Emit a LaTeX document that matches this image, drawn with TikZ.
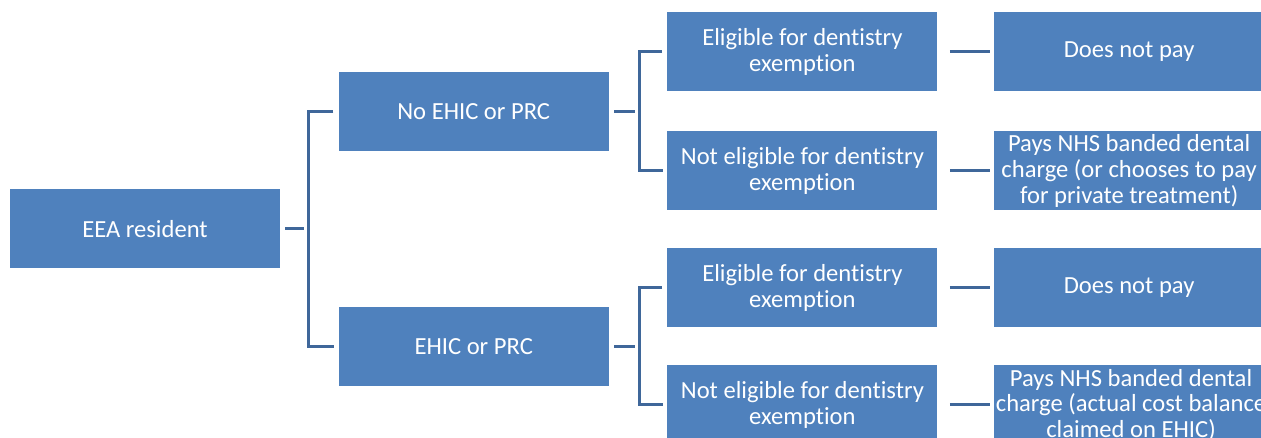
\documentclass[tikz,border=0pt]{standalone}
\usepackage{fontspec}
\setmainfont[Ligatures=NoCommon]{Carlito}
\usepackage{xcolor}
\definecolor{boxBlue}{HTML}{4F81BD}
\definecolor{linkBlue}{HTML}{3F679A}
\usepackage{tikz}
\usetikzlibrary{positioning,calc}
\tikzset{%
  stepBox/.style={%
    rectangle,
    draw=none,
    fill=boxBlue,
    text=white,
    minimum width=5.4cm,
    minimum height=1.58cm,
    inner sep=1pt,
    align=center,
    font=\fontsize{14pt}{14.6pt}\selectfont
  },
  linkLine/.style={%
    line width=1.7pt,
    color=linkBlue,
    shorten <=0.1cm,
    shorten >=0.08cm
  }
}
\begin{document}
\begin{tikzpicture}
  \clip (-2.9,-4.18) rectangle (22.32,4.58);
  \node[stepBox] (eea) {EEA resident};
  \node[stepBox, right=1.16cm of eea, yshift=2.34cm] (noCard) {No EHIC or PRC};
  \node[stepBox, right=1.16cm of eea, yshift=-2.36cm] (card) {EHIC or PRC};

  \node[stepBox, right=1.16cm of noCard, yshift=1.2cm] (eligNo) {Eligible for dentistry\\exemption};
  \node[stepBox, right=1.16cm of noCard, yshift=-1.18cm] (notEligNo) {Not eligible for dentistry\\exemption};
  \node[stepBox, right=1.16cm of card, yshift=1.18cm] (eligYes) {Eligible for dentistry\\exemption};
  \node[stepBox, right=1.16cm of card, yshift=-1.16cm] (notEligYes) {Not eligible for dentistry\\exemption};

  \node[stepBox, right=1.12cm of eligNo] (freeNo) {Does not pay};
  \node[stepBox, right=1.12cm of notEligNo] (chargeNo) {Pays NHS banded dental\\charge (or chooses to pay\\for private treatment)};
  \node[stepBox, right=1.12cm of eligYes] (freeYes) {Does not pay};
  \node[stepBox, right=1.12cm of notEligYes] (chargeYes) {Pays NHS banded dental\\charge (actual cost balance\\claimed on EHIC)};

  % forks
  \coordinate (forkEea) at ($(eea.east)+(0.56,0)$);
  \coordinate (forkNo) at ($(noCard.east)+(0.6,0)$);
  \coordinate (forkYes) at ($(card.east)+(0.6,0)$);

  \draw[linkLine] (eea.east) -- (forkEea);
  \draw[linkLine] (noCard.west) -| (forkEea) |- (card.west);
  \draw[linkLine] (noCard.east) -- (forkNo);
  \draw[linkLine] (eligNo.west) -| (forkNo) |- (notEligNo.west);
  \draw[linkLine] (card.east) -- (forkYes);
  \draw[linkLine] (eligYes.west) -| (forkYes) |- (notEligYes.west);

  \draw[linkLine, shorten <=0.24cm] (eligNo) -- (freeNo);
  \draw[linkLine, shorten <=0.24cm] (notEligNo) -- (chargeNo);
  \draw[linkLine, shorten <=0.24cm] (eligYes) -- (freeYes);
  \draw[linkLine, shorten <=0.24cm] (notEligYes) -- (chargeYes);
\end{tikzpicture}
\end{document}
